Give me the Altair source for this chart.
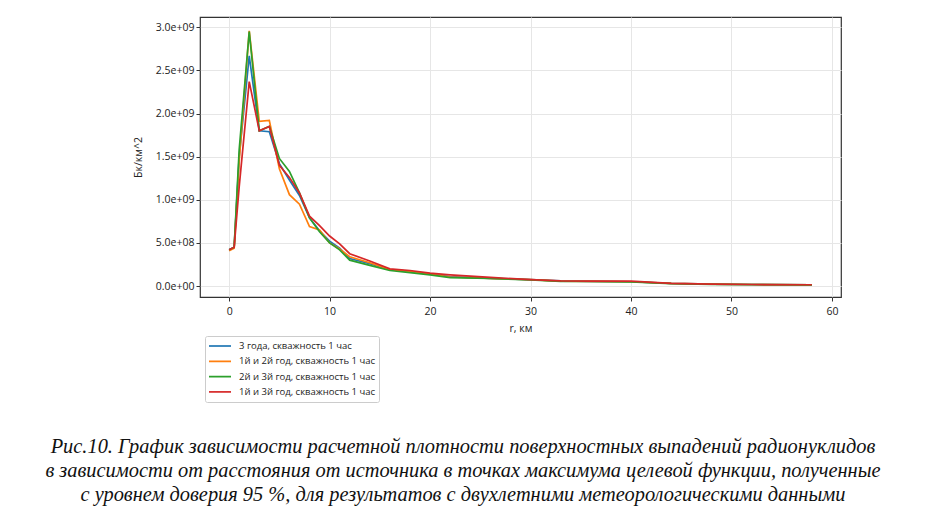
import altair as alt
import pandas as pd

# ---- data ----
r_km = [0, 0.5, 1, 2, 3, 4, 5, 6, 7, 8, 9, 10, 11, 12, 14, 16, 18, 20, 22, 26, 30, 33, 36, 40, 44, 48, 52, 58]

series_names = [
    "3 года, скважность 1 час",
    "1й и 2й год, скважность 1 час",
    "2й и 3й год, скважность 1 час",
    "1й и 3й год, скважность 1 час",
]

# values in units of 1e9 Бк/км^2
vals_3y = [0.42, 0.45, 1.50, 2.67, 1.80, 1.79, 1.42, 1.23, 1.05, 0.79, 0.64, 0.52, 0.44, 0.32, 0.26, 0.19, 0.17, 0.14, 0.11, 0.090, 0.075, 0.060, 0.055, 0.050, 0.030, 0.022, 0.018, 0.014]
vals_12 = [0.41, 0.44, 1.45, 2.96, 1.91, 1.92, 1.36, 1.06, 0.95, 0.69, 0.65, 0.50, 0.43, 0.34, 0.27, 0.19, 0.17, 0.14, 0.105, 0.088, 0.074, 0.058, 0.055, 0.050, 0.030, 0.022, 0.018, 0.014]
vals_23 = [0.42, 0.45, 1.58, 2.95, 1.80, 1.85, 1.48, 1.33, 1.08, 0.79, 0.63, 0.50, 0.42, 0.30, 0.24, 0.18, 0.155, 0.13, 0.097, 0.088, 0.072, 0.055, 0.053, 0.048, 0.028, 0.020, 0.017, 0.013]
vals_13 = [0.42, 0.45, 1.15, 2.37, 1.80, 1.85, 1.40, 1.26, 1.08, 0.81, 0.70, 0.58, 0.49, 0.375, 0.29, 0.20, 0.18, 0.15, 0.13, 0.10, 0.074, 0.060, 0.058, 0.058, 0.030, 0.022, 0.018, 0.015]

series_colors = ["#1f77b4", "#ff7f0e", "#2ca02c", "#d62728"]

x_ticks = [0, 10, 20, 30, 40, 50, 60]
y_ticks = [0, 0.5e9, 1.0e9, 1.5e9, 2.0e9, 2.5e9, 3.0e9]

caption_lines = [
    "Рис.10. График зависимости расчетной плотности поверхностных выпадений радионуклидов",
    "в зависимости от расстояния от источника в точках максимума целевой функции, полученные",
    "с уровнем доверия 95 %, для результатов с двухлетними метеорологическими данными",
]

rows = []
for idx, (name, vals) in enumerate(zip(series_names, [vals_3y, vals_12, vals_23, vals_13])):
    for r, v in zip(r_km, vals):
        rows.append({"r": r, "v": v * 1e9, "s": name, "k": idx})
df = pd.DataFrame(rows)

FONT = "Open Sans"

y_label_expr = (
    "datum.value == 0 ? '0.0e+00' : (datum.value < 1e9 ? "
    "format(datum.value / 1e8, '.1f') + 'e+08' : format(datum.value / 1e9, '.1f') + 'e+09')"
)

lines = alt.Chart(df).mark_line(strokeWidth=1.7).encode(
    x=alt.X(
        "r:Q",
        scale=alt.Scale(domain=[-2.9, 60.9], nice=False, zero=False),
        axis=alt.Axis(values=x_ticks, title="r, км", labelPadding=5, titlePadding=7, format="d"),
    ),
    y=alt.Y(
        "v:Q",
        scale=alt.Scale(domain=[-0.127e9, 3.12e9], nice=False, zero=False),
        axis=alt.Axis(values=y_ticks, labelExpr=y_label_expr, title="Бк/км^2", titlePadding=12),
    ),
    color=alt.Color(
        "s:N",
        sort=series_names,
        scale=alt.Scale(domain=series_names, range=series_colors),
        legend=alt.Legend(
            orient="none",
            legendX=5,
            legendY=319,
            title=None,
            symbolType="stroke",
            symbolSize=484,
            symbolStrokeWidth=1.7,
            labelFont=FONT,
            labelFontSize=9.5,
            labelColor="#222222",
            labelOffset=7,
            strokeColor="#cccccc",
            fillColor="white",
            padding=3,
            cornerRadius=2,
            clipHeight=14,
            rowPadding=1.3,
        ),
    ),
    detail="k:O",
)

caption = alt.Chart(alt.Data(values=[{}])).mark_text(
    font="Liberation Serif",
    fontStyle="italic",
    fontSize=20.4,
    lineHeight=24,
    align="center",
    baseline="middle",
    color="#111111",
).encode(
    x=alt.value(263),
    y=alt.value(430),
    text=alt.value(caption_lines),
)

chart = alt.layer(lines, caption).properties(
    width=641,
    height=280,
    autosize=alt.AutoSizeParams(type="none"),
    padding={"left": 200, "top": 17, "right": 86, "bottom": 219},
    background="white",
).configure_view(
    stroke="#333333",
    strokeWidth=1.2,
).configure_axis(
    domain=False,
    grid=True,
    gridColor="#e6e6e6",
    gridWidth=1,
    ticks=True,
    tickColor="#333333",
    tickSize=4,
    labelFont=FONT,
    labelFontSize=10.5,
    labelColor="#222222",
    titleFont=FONT,
    titleFontSize=10.5,
    titleFontWeight="normal",
    titleColor="#222222",
)

chart.save("out.html", embed_options={"renderer": "svg", "actions": False})
